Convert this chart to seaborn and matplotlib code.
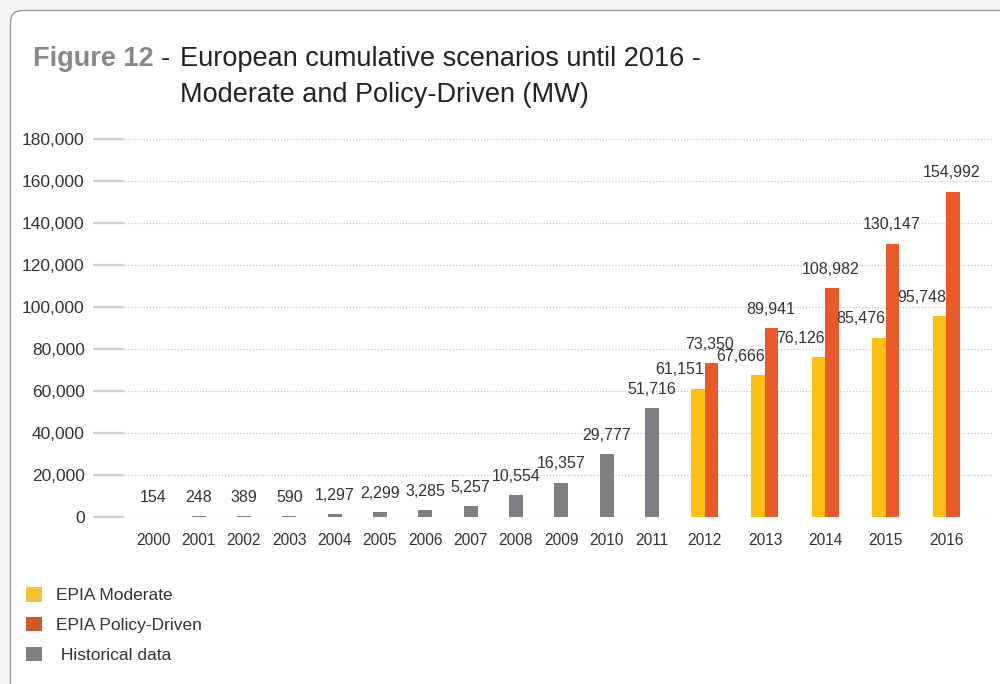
import numpy as np
import matplotlib
matplotlib.use("Agg")
import matplotlib.pyplot as plt
from matplotlib.patches import FancyBboxPatch, Patch
import seaborn as sns

# ---------------- data ----------------
hist_years = [2000, 2001, 2002, 2003, 2004, 2005, 2006, 2007, 2008, 2009, 2010, 2011]
historical = [154, 248, 389, 590, 1297, 2299, 3285, 5257, 10554, 16357, 29777, 51716]
fc_years = [2012, 2013, 2014, 2015, 2016]
moderate = [61151, 67666, 76126, 85476, 95748]
policy = [73350, 89941, 108982, 130147, 154992]
y_ticks = [0, 20000, 40000, 60000, 80000, 100000, 120000, 140000, 160000, 180000]
legend_labels = ["EPIA Moderate", "EPIA Policy-Driven", " Historical data"]

# ---------------- style ----------------
FONT = "Liberation Sans"
plt.rcParams["font.family"] = [FONT, "DejaVu Sans"]
C_MOD = "#FCC013"
C_POL = "#E95A28"
C_HIST = "#7F7F83"
L_MOD = "#F2C230"
L_POL = "#D2582C"
L_HIST = "#808084"
TXT = "#333333"

W, H = 1000, 684
fig = plt.figure(figsize=(W / 100, H / 100), dpi=100, facecolor="#f4f4f4")

# card background
card = FancyBboxPatch((10.5, -20), 1010, H - 10.5 + 20,
                      boxstyle="round,pad=0,rounding_size=12",
                      transform=None, facecolor="white", edgecolor="#9a9a9a",
                      linewidth=1.0, zorder=0)
fig.add_artist(card)

ax_left, ax_right = 93, 993
ax_bottom, ax_top = 517, 139
ax = fig.add_axes([ax_left / W, 1 - ax_bottom / H,
                   (ax_right - ax_left) / W, (ax_bottom - ax_top) / H])
ax.set_facecolor("none")

# positions (layout): historical one unit apart, forecast years wider apart
hist_pos = np.arange(len(hist_years), dtype=float)
fc_step = 1.3335
fc_pos = 12.16 + fc_step * np.arange(len(fc_years))
hist_w = 0.309
fc_w = 0.298

sns.barplot(x=hist_pos, y=historical, native_scale=True, width=hist_w,
            color=C_HIST, saturation=1, errorbar=None, linewidth=0, ax=ax)
sns.barplot(x=fc_pos - fc_w / 2, y=moderate, native_scale=True, width=fc_w / fc_step,
            color=C_MOD, saturation=1, errorbar=None, linewidth=0, ax=ax)
sns.barplot(x=fc_pos + fc_w / 2, y=policy, native_scale=True, width=fc_w / fc_step,
            color=C_POL, saturation=1, errorbar=None, linewidth=0, ax=ax)

px = 45.33  # pixels per unit
ax.set_xlim((ax_left - 153.3) / px, (ax_right - 153.3) / px)
ax.set_ylim(0, 180000)

# value labels
lab_kw = dict(textcoords="offset points", ha="center", va="center",
              fontsize=11.5, color=TXT, family=[FONT, "DejaVu Sans"])
for p, v in zip(hist_pos, historical):
    ax.annotate(f"{v:,}", (p, v), xytext=(0, 13.5), **lab_kw)
for p, v in zip(fc_pos - fc_w / 2, moderate):
    ax.annotate(f"{v:,}", (p, v), xytext=(-13, 13.5), **lab_kw)
for p, v in zip(fc_pos + fc_w / 2, policy):
    ax.annotate(f"{v:,}", (p, v), xytext=(-1, 13.5), **lab_kw)

# axes styling
for s in ax.spines.values():
    s.set_visible(False)
ax.set_yticks(y_ticks)
ax.set_yticklabels([f"{t:,}" for t in y_ticks])
ax.tick_params(axis="y", direction="in", length=22.5, width=1.6, color="#d0d0d0",
               pad=6, labelsize=12.5, labelcolor=TXT)
ax.set_xticks(list(hist_pos) + list(fc_pos))
ax.set_xticklabels([str(y) for y in hist_years + fc_years])
ax.tick_params(axis="x", length=0, pad=11.5, labelsize=11.2, labelcolor=TXT)
ax.grid(axis="y", linestyle=(0, (1, 1.5)), color="#c4c4c4", linewidth=0.9)
ax.set_axisbelow(True)
ax.set_xlabel("")
ax.set_ylabel("")

# title
TS = 19.5
fig.text(33 / W, 1 - 66 / H, "Figure 12", fontsize=TS, fontweight="bold",
         color="#888888", va="baseline", ha="left")
fig.text(161 / W, 1 - 66 / H, "-", fontsize=TS, color="#222222", va="baseline", ha="left")
fig.text(180 / W, 1 - 66 / H, "European cumulative scenarios until 2016 -", fontsize=TS,
         color="#222222", va="baseline", ha="left")
fig.text(180 / W, 1 - 102 / H, "Moderate and Policy-Driven (MW)", fontsize=TS,
         color="#222222", va="baseline", ha="left")

# legend
handles = [Patch(facecolor=c, edgecolor="none") for c in (L_MOD, L_POL, L_HIST)]
leg = fig.legend(handles, legend_labels, loc="upper left",
                 bbox_to_anchor=(26 / W, 1 - 587 / H), frameon=False,
                 fontsize=12.5, handlelength=0.92, handleheight=0.92,
                 handletextpad=0.8, labelspacing=0.78, borderpad=0, borderaxespad=0)
for t in leg.get_texts():
    t.set_color(TXT)

fig.savefig("out.png", dpi=100, facecolor=fig.get_facecolor())
